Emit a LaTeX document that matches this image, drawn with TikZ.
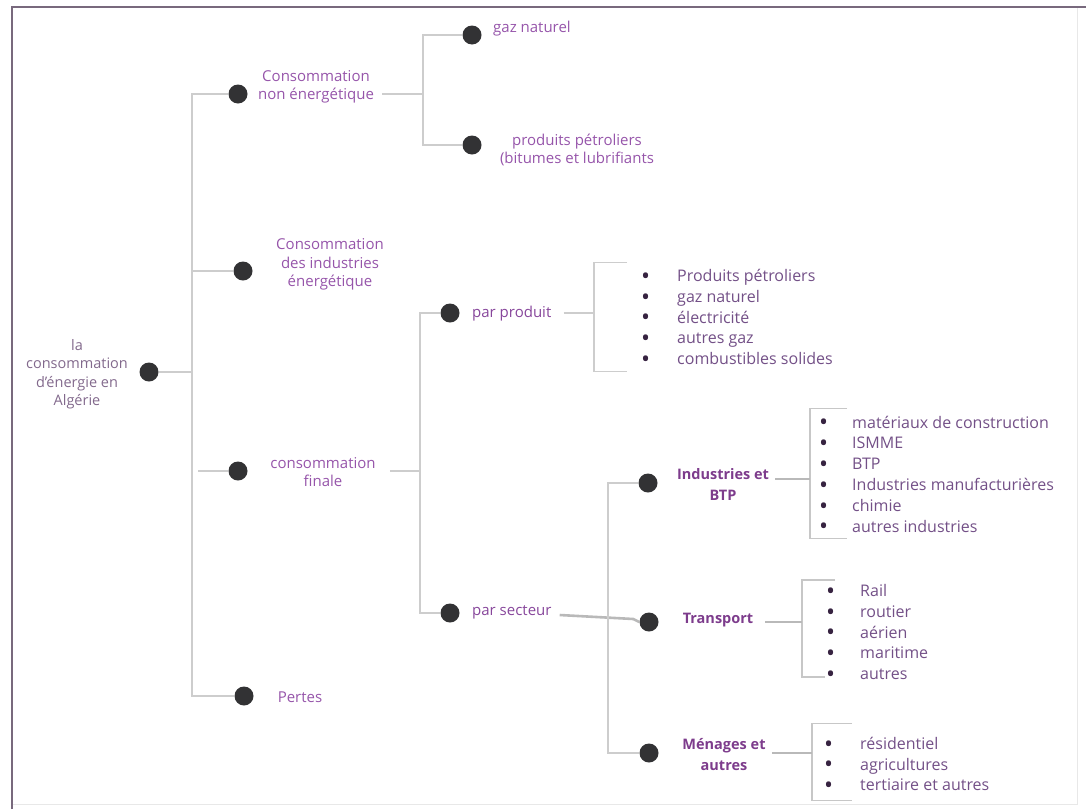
\documentclass[tikz,border=0pt]{standalone}
\usepackage{fontspec}
\setmainfont{Open Sans}
\definecolor{dotcol}{RGB}{50,50,52}
\definecolor{bulcol}{RGB}{55,35,65}
\definecolor{linecol}{RGB}{205,205,205}
\definecolor{thickcol}{RGB}{185,185,185}
\definecolor{labcol}{RGB}{150,85,170}
\definecolor{rootcol}{RGB}{130,105,140}
\definecolor{listcol}{RGB}{115,80,135}
\definecolor{boldcol}{RGB}{125,60,140}
\definecolor{parcol}{RGB}{135,70,155}
\definecolor{framecol}{RGB}{120,105,125}
\definecolor{framelight}{RGB}{232,232,232}
\newcommand{\blt}{\textcolor{bulcol}{\raisebox{-0.17em}{\scalebox{1.5}{•}}}}
\tikzset{
  bigdot/.style={circle, fill=dotcol, minimum size=19pt, inner sep=0pt},
  lbl/.style={text=labcol, font=\fontsize{15}{18.5}\selectfont, align=center, inner sep=0pt},
  rootlbl/.style={text=rootcol, font=\fontsize{14.5}{18.5}\selectfont, align=center, inner sep=0pt},
  parlbl/.style={text=parcol, font=\fontsize{15}{18.5}\selectfont, anchor=west, inner sep=0pt},
  boldlbl/.style={text=boldcol, font=\fontsize{14.5}{21}\selectfont\bfseries, align=center, inner sep=0pt},
  itemlist/.style={text=listcol, font=\fontsize{16}{20.8}\selectfont, anchor=west, inner sep=0pt},
  link/.style={draw=linecol, line width=1.2pt},
  thicklink/.style={draw=thickcol, line width=2.6pt},
  bracketline/.style={draw=thickcol!80, line width=1.5pt},
}
\begin{document}
\begin{tikzpicture}[x=1pt,y=-1pt]
\useasboundingbox (0,0) rectangle (1086,809);
% frame
\draw[framelight, line width=1pt] (1077,7) -- (1077,804) -- (12,804);
\draw[framecol, line width=2.5pt] (12,809) -- (12,7) -- (1086,7);

% root
\node[bigdot] (rootdot) at (149,372) {};
\node[rootlbl] (rootlbl) at (77,374) {la\\consommation\\d'énergie en\\Algérie};

% level 1
\node[bigdot] (c1dot) at (238,94) {};
\node[lbl] (c1lbl) at (316,87) {Consommation\\non énergétique};
\node[bigdot] (c2dot) at (243,271) {};
\node[lbl] (c2lbl) at (330,264.5) {Consommation\\des industries\\énergétique};
\node[bigdot] (c3dot) at (238,471) {};
\node[lbl] (c3lbl) at (323,472) {consommation\\finale};
\node[bigdot] (pdot) at (244,696) {};
\node[lbl] (plbl) at (300,697) {Pertes};

\coordinate (sA) at (192,372);
\draw[link] (rootdot.east) -- (sA);
\draw[link] (c1dot.west) -| (sA) |- (pdot.west);
\draw[link] (c2dot.west) -- (c2dot.west -| sA);
\draw[link] (c3dot.west) -- ([xshift=6pt]c3dot.west -| sA);

% non energetique
\node[bigdot] (g1dot) at (472,35) {};
\node[lbl, anchor=west] (g1lbl) at (493,29) {gaz naturel};
\node[bigdot] (g2dot) at (472,145) {};
\node[lbl] (g2lbl) at (577,150) {produits pétroliers\\(bitumes et lubrifiants};
\coordinate (sB) at (423,94);
\draw[link] ([xshift=8pt]c1lbl.east |- c1dot) -- (sB);
\draw[link] (g1dot.west) -| (sB) |- (g2dot.west);

% consommation finale
\node[bigdot] (ppdot) at (450,313) {};
\node[parlbl] (pplbl) at (472,314) {par produit};
\node[bigdot] (psdot) at (450,613) {};
\node[parlbl] (pslbl) at (472,612) {par secteur};
\coordinate (sC) at (420,471);
\draw[link] ([xshift=14pt]c3lbl.east |- c3dot) -- (sC);
\draw[link] (ppdot.west) -| (sC) |- (psdot.west);

% par produit list
\node[itemlist] (listP) at (641,319) {\begin{tabular}{@{}l@{\hspace{27pt}}l@{}}
\blt & Produits pétroliers\\
\blt & gaz naturel\\
\blt & électricité\\
\blt & autres gaz\\
\blt & combustibles solides
\end{tabular}};
\draw[link] ([xshift=-14pt,yshift=4pt]listP.north west) -- ([xshift=-47pt,yshift=4pt]listP.north west)
  -- ([xshift=-47pt,yshift=0pt]listP.south west) -- ([xshift=-14pt,yshift=0pt]listP.south west);
\draw[link] ([xshift=12pt]pplbl.east |- ppdot) -- ([xshift=-47pt]listP.west |- ppdot);

% par secteur
\node[bigdot] (indot) at (648,483) {};
\node[boldlbl] (inlbl) at (723,484) {Industries et\\BTP};
\node[bigdot] (trdot) at (649,622) {};
\node[boldlbl] (trlbl) at (718,620) {Transport};
\node[bigdot] (medot) at (649,753) {};
\node[boldlbl] (melbl) at (724,755) {Ménages et\\autres};
\draw[thicklink] ([xshift=8pt]pslbl.east |- 0,615) -- ([xshift=-6pt]trdot.west |- 0,619) -- (trdot.west);
\coordinate (sD) at (608,483);
\draw[link] (indot.west) -- (sD) |- (medot.west);

% industries list
\node[itemlist] (listI) at (819,476) {\begin{tabular}{@{}l@{\hspace{24pt}}l@{}}
\blt & matériaux de construction\\
\blt & ISMME\\
\blt & BTP\\
\blt & Industries manufacturières\\
\blt & chimie\\
\blt & autres industries
\end{tabular}};
\draw[bracketline] ([xshift=28pt,yshift=5pt]listI.north west) -- ([xshift=-9pt,yshift=5pt]listI.north west)
  -- ([xshift=-9pt,yshift=0pt]listI.south west) -- ([xshift=28pt,yshift=0pt]listI.south west);
\draw[thicklink] ([xshift=6pt]inlbl.east |- 0,479) -- ([xshift=-9pt]listI.west |- 0,479);

% transport list
\node[itemlist] (listT) at (826,634) {\begin{tabular}{@{}l@{\hspace{25pt}}l@{}}
\blt & Rail\\
\blt & routier\\
\blt & aérien\\
\blt & maritime\\
\blt & autres
\end{tabular}};
\draw[bracketline] ([xshift=9pt,yshift=2pt]listT.north west) -- ([xshift=-24pt,yshift=2pt]listT.north west)
  -- ([xshift=-24pt,yshift=9pt]listT.south west) -- ([xshift=-1pt,yshift=9pt]listT.south west);
\draw[thicklink] ([xshift=12pt]trlbl.east |- trdot) -- ([xshift=-24pt]listT.west |- trdot);

% menages list
\node[itemlist] (listM) at (824,766) {\begin{tabular}{@{}l@{\hspace{27pt}}l@{}}
\blt & résidentiel\\
\blt & agricultures\\
\blt & tertiaire et autres
\end{tabular}};
\draw[bracketline] ([xshift=28pt,yshift=11pt]listM.north west) -- ([xshift=-12pt,yshift=11pt]listM.north west)
  -- ([xshift=-12pt,yshift=-3pt]listM.south west) -- ([xshift=28pt,yshift=-3pt]listM.south west);
\draw[thicklink] ([xshift=6pt]melbl.east |- medot) -- ([xshift=-12pt]listM.west |- medot);
\end{tikzpicture}
\end{document}
